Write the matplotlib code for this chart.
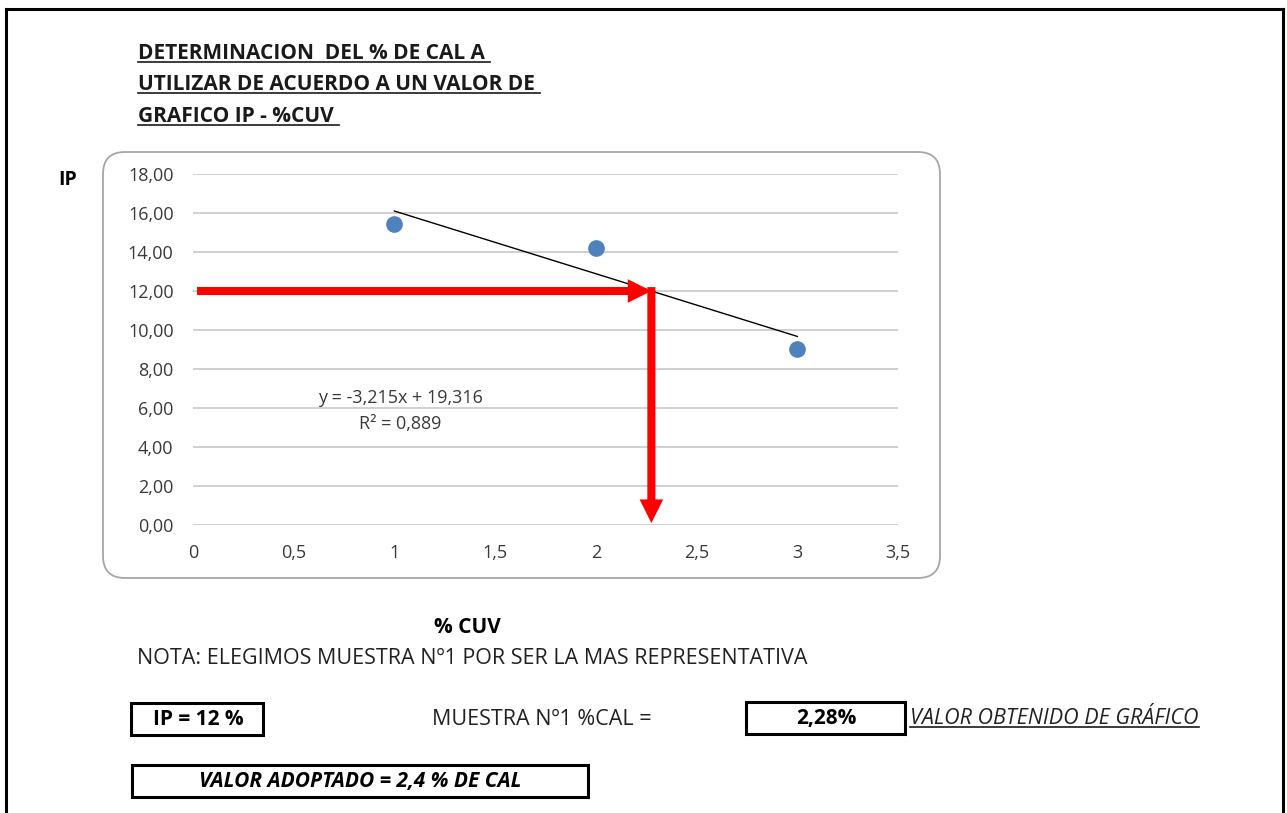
import numpy as np
import matplotlib.pyplot as plt
from matplotlib.patches import FancyBboxPatch, Rectangle
from matplotlib.lines import Line2D
from matplotlib.transforms import IdentityTransform

plt.rcParams['font.family'] = ['Open Sans', 'DejaVu Sans']

# datos del ensayo
pct_cuv = [1, 2, 3]
ip_vals = [15.45, 14.19, 9.02]

# recta de tendencia (Excel)
slope = -3.215
intercept = 19.316
r2 = 0.889

ip_target = 12.0
cal_result = (ip_target - intercept) / slope   # ~2,28

x_ticks = [0, 0.5, 1, 1.5, 2, 2.5, 3, 3.5]
y_ticks = [0, 2, 4, 6, 8, 10, 12, 14, 16, 18]

title_lines = ["DETERMINACION  DEL % DE CAL A ",
               "UTILIZAR DE ACUERDO A UN VALOR DE ",
               "GRAFICO IP - %CUV "]

W, H = 1287, 813
fig = plt.figure(figsize=(W / 100, H / 100), dpi=100)


def fx(px):
    return px / W


def fy(py):
    return 1 - py / H


def fmt(v, dec):
    return f"{v:.{dec}f}".replace('.', ',')


# marco exterior
for xs, ys in [([6, 6], [813, 9]), ([6, 1283], [9, 9]), ([1283, 1283], [9, 813])]:
    fig.add_artist(Line2D([fx(x) for x in xs], [fy(y) for y in ys],
                          color='black', lw=2.2, transform=fig.transFigure))

# recuadro redondeado del grafico (en pixeles)
box = FancyBboxPatch((103, H - 578), 837, 426,
                     boxstyle="round,pad=0,rounding_size=22",
                     transform=IdentityTransform(), fc='white', ec='#a6a6a6', lw=1.3,
                     zorder=-1)
fig.add_artist(box)

ax = fig.add_axes([fx(193), fy(525), fx(898) - fx(193), fy(174) - fy(525)])
ax.set_zorder(2)
ax.set_facecolor('none')
ax.set_xlim(0, 3.5)
ax.set_ylim(0, 18)
ax.set_xticks(x_ticks)
ax.set_yticks(y_ticks)
ax.set_xticklabels([fmt(v, 1) if v % 1 else str(int(v)) for v in x_ticks])
ax.set_yticklabels([fmt(v, 2) for v in y_ticks])
for s in ax.spines.values():
    s.set_visible(False)
ax.tick_params(length=0, labelsize=13, labelcolor='#3a3a3a', pad=14)
ax.grid(axis='y', color='#c4c4c4', lw=1.1)
ax.set_axisbelow(True)

ax.plot(pct_cuv, ip_vals, 'o', color='#4f81bd', ms=11, zorder=3)

xt = np.array([pct_cuv[0], pct_cuv[-1]])
ax.plot(xt, slope * xt + intercept, color='black', lw=1.0, zorder=3)

ax.text(1.03, 6.5, f"y = {fmt(slope, 3)}x + {fmt(intercept, 3)}",
        ha='center', va='center', fontsize=13, color='#3a3a3a')
ax.text(1.03, 5.2, f"R² = {fmt(r2, 3)}",
        ha='center', va='center', fontsize=13, color='#3a3a3a')

# flechas de lectura
arrow_kw = dict(arrowstyle='simple,head_length=1.7,head_width=1.7,tail_width=0.58',
                color='#ff0000', mutation_scale=10, shrinkA=0, shrinkB=0, lw=0)
ax.annotate('', xy=(cal_result, ip_target), xytext=(0.02, ip_target),
            arrowprops=arrow_kw, annotation_clip=False, zorder=4)
ax.annotate('', xy=(cal_result, 0.1), xytext=(cal_result, ip_target + 0.2),
            arrowprops=arrow_kw, annotation_clip=False, zorder=4)

# textos
fig.text(fx(68), fy(180), "IP", ha='center', va='center', fontsize=14, weight='bold')
fig.text(fx(467), fy(627), "% CUV", ha='center', va='center', fontsize=15, weight='bold')
fig.text(fx(137), fy(658), "NOTA: ELEGIMOS MUESTRA Nº1 POR SER LA MAS REPRESENTATIVA",
         ha='left', va='center', fontsize=15.5, color='#222222')

title_texts = []
for i, line in enumerate(title_lines):
    t = fig.text(fx(138), fy(59 + 31.5 * i), line, ha='left', va='baseline',
                 fontsize=15, weight='bold', color='#1a1a1a')
    title_texts.append(t)

# recuadros inferiores
for x0, y0, x1, y1 in [(131, 703, 263, 735), (746, 702, 905, 734), (132, 765, 588, 797)]:
    fig.add_artist(Rectangle((fx(x0), fy(y1)), fx(x1) - fx(x0), fy(y0) - fy(y1),
                             transform=fig.transFigure, fill=False, ec='black', lw=2.2))

fig.text(fx(198), fy(719), "IP = 12 %", ha='center', va='center',
         fontsize=15, weight='bold')
fig.text(fx(432), fy(719), "MUESTRA Nº1 %CAL =", ha='left', va='center',
         fontsize=15.5, color='#222222')
fig.text(fx(826), fy(718), fmt(round(cal_result, 2), 2) + "%", ha='center', va='center',
         fontsize=15, weight='bold')
note = fig.text(fx(910), fy(724), "VALOR OBTENIDO DE GRÁFICO", ha='left', va='baseline',
                fontsize=15.5, style='italic', color='#222222')
fig.text(fx(360), fy(781), "VALOR ADOPTADO = 2,4 % DE CAL", ha='center', va='center',
         fontsize=15, weight='bold', style='italic')

# subrayados
fig.canvas.draw()
r = fig.canvas.get_renderer()
for t in title_texts + [note]:
    bb = t.get_window_extent(r)
    x_px, y_px = t.get_transform().transform(t.get_position())
    yl = (y_px - 3) / H
    fig.add_artist(Line2D([bb.x0 / W, bb.x1 / W], [yl, yl], color='#1a1a1a',
                          lw=1.2, transform=fig.transFigure))

fig.savefig('out.png', dpi=100)
